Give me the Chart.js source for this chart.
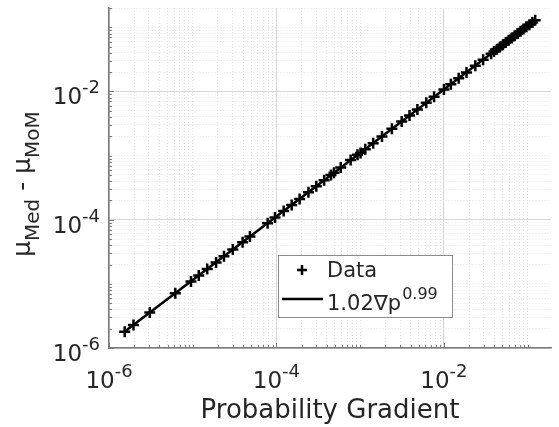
<!DOCTYPE html>
<html>
<head>
<meta charset="utf-8">
<script src="https://cdn.jsdelivr.net/npm/chart.js@4"></script>
<style>
  html, body { margin: 0; padding: 0; background: #fff; }
</style>
</head>
<body>
<canvas id="gradChart" width="559" height="427"></canvas>
<script>
// values
const gradientX = [1.54e-6, 1.96e-6, 3.07e-6, 6.19e-6, 9.53e-6, 1.18e-5, 1.49e-5, 1.90e-5, 2.36e-5, 3.01e-5,
  3.94e-5, 4.82e-5, 7.84e-5, 9.60e-5, 1.22e-4, 1.52e-4, 1.89e-4, 2.41e-4, 2.99e-4, 3.71e-4,
  4.48e-4, 4.86e-4, 5.86e-4, 7.69e-4, 9.29e-4, 1.01e-3, 1.15e-3, 1.43e-3, 1.82e-3, 2.39e-3,
  3.13e-3, 3.88e-3, 4.82e-3, 6.15e-3, 7.63e-3, 1.00e-2, 1.21e-2, 1.50e-2, 1.86e-2, 2.37e-2,
  2.94e-2, 3.66e-2, 3.96e-2, 4.30e-2, 4.66e-2, 5.06e-2, 5.48e-2, 5.94e-2, 6.44e-2, 7.00e-2,
  7.59e-2, 8.22e-2, 8.91e-2, 9.66e-2, 0.105, 0.114, 0.123];
const muDiff = [1.80e-6, 2.29e-6, 3.59e-6, 7.15e-6, 1.09e-5, 1.35e-5, 1.70e-5, 2.16e-5, 2.69e-5, 3.42e-5,
  4.47e-5, 5.46e-5, 8.85e-5, 1.08e-4, 1.37e-4, 1.70e-4, 2.11e-4, 2.69e-4, 3.33e-4, 4.13e-4,
  4.98e-4, 5.40e-4, 6.50e-4, 8.52e-4, 1.03e-3, 1.10e-3, 1.26e-3, 1.56e-3, 1.99e-3, 2.61e-3,
  3.41e-3, 4.22e-3, 5.24e-3, 6.68e-3, 8.26e-3, 1.07e-2, 1.29e-2, 1.60e-2, 1.98e-2, 2.52e-2,
  3.12e-2, 3.88e-2, 4.19e-2, 4.55e-2, 4.93e-2, 5.35e-2, 5.79e-2, 6.28e-2, 6.80e-2, 7.39e-2,
  8.01e-2, 8.67e-2, 9.39e-2, 0.102, 0.110, 0.119, 0.129];
// fitted power law (straight on log-log), end points
const fitX = [1.5e-6, 0.125];
const fitY = [1.76e-6, 0.131];
// labelled ticks
const labelTicks = [1e-6, 1e-4, 1e-2];
const labelExps = ['-6', '-4', '-2'];

const FONT = "'DejaVu Sans', sans-serif";
const TXT = '#262626';
const AXIS = '#7a7a7a';

function isMajor(v) {
  return labelTicks.some(t => Math.abs(Math.log10(v) - Math.log10(t)) < 1e-6);
}
function decadeTicks(min, max) {
  const out = [];
  for (let e = Math.floor(Math.log10(min)); e <= Math.ceil(Math.log10(max)); e++) {
    for (let n = 1; n <= 9; n++) {
      const v = n * Math.pow(10, e);
      if (v >= min * 0.9999 && v <= max * 1.0001) out.push({ value: v });
    }
  }
  return out;
}
function gridColor(c) {
  if (!c.tick) return '#e2e2e2';
  return isMajor(c.tick.value) ? '#d6d6d6' : '#e4e4e4';
}
function gridDash(c) {
  if (!c.tick) return [];
  return isMajor(c.tick.value) ? [] : [1, 2];
}

// superscript label "10^exp"
function drawPow(ctx, x, y, exp, align, mainSize, supSize, rise) {
  ctx.font = mainSize + 'px ' + FONT;
  const wBase = ctx.measureText('10').width;
  ctx.font = supSize + 'px ' + FONT;
  const wExp = ctx.measureText(exp).width;
  const total = wBase + wExp;
  let left = align === 'center' ? x - total / 2 : x - total;
  ctx.textAlign = 'left';
  ctx.textBaseline = 'alphabetic';
  ctx.font = mainSize + 'px ' + FONT;
  ctx.fillText('10', left, y);
  ctx.font = supSize + 'px ' + FONT;
  ctx.fillText(exp, left + wBase, y - rise);
}

const decorations = {
  id: 'decorations',
  afterDraw(chart) {
    const ctx = chart.ctx;
    const xs = chart.scales.x, ys = chart.scales.y;
    const area = chart.chartArea;
    ctx.save();

    // inward tick marks
    ctx.strokeStyle = AXIS;
    ctx.lineWidth = 1;
    xs.ticks.forEach(t => {
      const px = Math.round(xs.getPixelForValue(t.value)) + 0.5;
      const len = isMajor(t.value) ? 5 : 3;
      ctx.beginPath();
      ctx.moveTo(px, area.bottom);
      ctx.lineTo(px, area.bottom - len);
      ctx.stroke();
    });
    ys.ticks.forEach(t => {
      const py = Math.round(ys.getPixelForValue(t.value)) + 0.5;
      const len = isMajor(t.value) ? 5 : 3;
      ctx.beginPath();
      ctx.moveTo(area.left, py);
      ctx.lineTo(area.left + len, py);
      ctx.stroke();
    });

    // tick labels
    ctx.fillStyle = TXT;
    labelTicks.forEach((v, i) => {
      const px = xs.getPixelForValue(v);
      drawPow(ctx, px, area.bottom + 40, labelExps[i], 'center', 23, 18, 11);
      const py = ys.getPixelForValue(v);
      drawPow(ctx, area.left - 9, py + 13, labelExps[i], 'right', 23, 18, 11);
    });

    // x title
    ctx.font = '26px ' + FONT;
    ctx.textAlign = 'center';
    ctx.textBaseline = 'alphabetic';
    ctx.fillText('Probability Gradient', (area.left + area.right) / 2, 418);

    // y title: mu_Med - mu_MoM
    const parts = [
      { t: '\u03bc', s: 25, d: 0 },
      { t: 'Med', s: 20, d: 9 },
      { t: ' - ', s: 25, d: 0 },
      { t: '\u03bc', s: 25, d: 0 },
      { t: 'MoM', s: 20, d: 9 }
    ];
    let totalW = 0;
    parts.forEach(p => { ctx.font = p.s + 'px ' + FONT; p.w = ctx.measureText(p.t).width; totalW += p.w; });
    ctx.translate(30, 184);
    ctx.rotate(-Math.PI / 2);
    ctx.textAlign = 'left';
    let cx = -totalW / 2;
    parts.forEach(p => {
      ctx.font = p.s + 'px ' + FONT;
      ctx.fillText(p.t, cx, p.d);
      cx += p.w;
    });
    ctx.setTransform(1, 0, 0, 1, 0, 0);

    // legend box
    const bx = 278, by = 255, bw = 174, bh = 62;
    ctx.fillStyle = '#fff';
    ctx.fillRect(bx, by, bw, bh);
    ctx.strokeStyle = '#8c8c8c';
    ctx.lineWidth = 1;
    ctx.strokeRect(bx + 0.5, by + 0.5, bw, bh);
    // marker
    ctx.strokeStyle = '#000';
    ctx.lineWidth = 2.5;
    ctx.beginPath();
    ctx.moveTo(297, 270); ctx.lineTo(307, 270);
    ctx.moveTo(302, 265); ctx.lineTo(302, 275);
    ctx.stroke();
    // line sample
    ctx.beginPath();
    ctx.moveTo(282, 299); ctx.lineTo(323, 299);
    ctx.stroke();
    ctx.fillStyle = TXT;
    ctx.font = '21px ' + FONT;
    ctx.textAlign = 'left';
    ctx.fillText('Data', 327, 277);
    ctx.fillText('1.02\u2207p', 327, 310);
    const w = ctx.measureText('1.02\u2207p').width;
    ctx.font = '16px ' + FONT;
    ctx.fillText('0.99', 327 + w + 1, 299);

    ctx.restore();
  }
};

const ctx = document.getElementById('gradChart').getContext('2d');
const chart = new Chart(ctx, {
  type: 'scatter',
  data: {
    datasets: [{
      label: 'Data',
      data: gradientX.map((x, i) => ({ x: x, y: muDiff[i] })),
      pointStyle: 'cross',
      pointRadius: 5.5,
      pointBorderWidth: 2.5,
      borderColor: '#000',
      backgroundColor: '#000',
      showLine: false
    }, {
      label: '1.02\u2207p^0.99',
      type: 'line',
      data: fitX.map((x, i) => ({ x: x, y: fitY[i] })),
      borderColor: '#000',
      borderWidth: 2.5,
      pointRadius: 0,
      fill: false
    }]
  },
  options: {
    responsive: false,
    animation: false,
    devicePixelRatio: 1,
    layout: { padding: { left: 109, top: 8, right: 0, bottom: 79 } },
    plugins: { legend: { display: false }, tooltip: { enabled: false } },
    scales: {
      x: {
        type: 'logarithmic',
        min: 1e-6,
        max: 0.19,
        afterBuildTicks: s => { s.ticks = decadeTicks(s.min, s.max); },
        afterFit: s => { s.height = 0; },
        ticks: { display: false },
        grid: { drawTicks: false, color: gridColor, lineWidth: 1 },
        border: { display: true, color: AXIS, width: 1.5, dash: gridDash }
      },
      y: {
        type: 'logarithmic',
        min: 1e-6,
        max: 0.2,
        afterBuildTicks: s => { s.ticks = decadeTicks(s.min, s.max); },
        afterFit: s => { s.width = 0; },
        ticks: { display: false },
        grid: { drawTicks: false, color: gridColor, lineWidth: 1 },
        border: { display: true, color: AXIS, width: 1.5, dash: gridDash }
      }
    }
  },
  plugins: [decorations]
});
</script>
</body>
</html>
